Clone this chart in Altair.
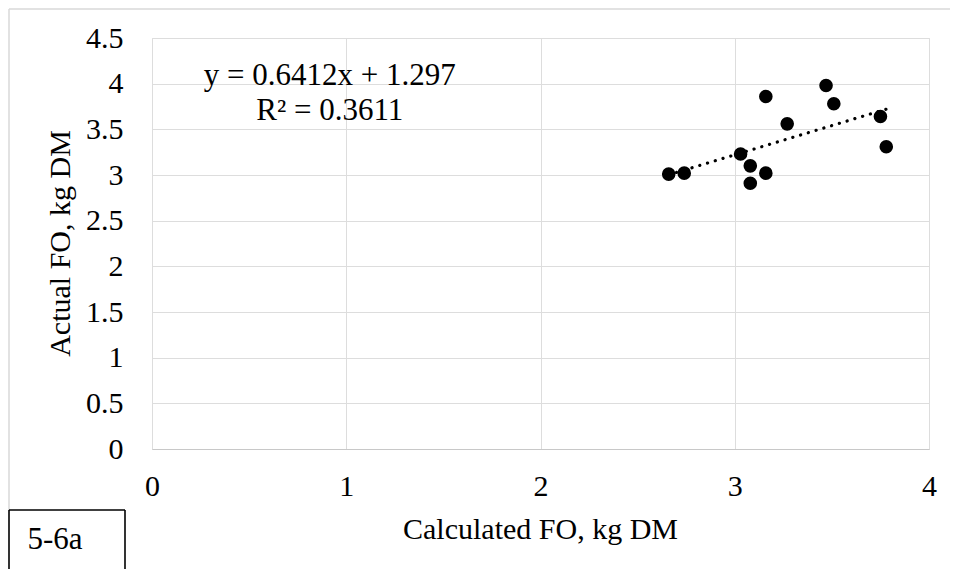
import altair as alt
import pandas as pd

# Data
calc_fo = [2.66, 2.74, 3.03, 3.08, 3.08, 3.16, 3.27, 3.16, 3.51, 3.47, 3.75, 3.78]
actual_fo = [3.01, 3.02, 3.23, 3.10, 2.91, 3.02, 3.56, 3.86, 3.78, 3.98, 3.64, 3.31]

slope = 0.6412
intercept = 1.297
eq_lines = ["y = 0.6412x + 1.297", "R² = 0.3611"]
eq_x = [0.915, 0.915]
eq_y = [3.98, 3.60]

x_ticks = [0, 1, 2, 3, 4]
y_ticks = [0, 0.5, 1, 1.5, 2, 2.5, 3, 3.5, 4, 4.5]

FONT = "Liberation Serif"
W, H = 777, 411

pts = pd.DataFrame({"calc": calc_fo, "actual": actual_fo})
xmin, xmax = min(calc_fo), max(calc_fo)
trend = pd.DataFrame({"calc": [xmin, xmax],
                      "actual": [slope * xmin + intercept, slope * xmax + intercept]})
eq = pd.DataFrame({"txt": eq_lines, "x": eq_x, "y": eq_y})
one = pd.DataFrame({"a": [0]})

xscale = alt.Scale(domain=[0, 4], nice=False, zero=True)
yscale = alt.Scale(domain=[0, 4.5], nice=False, zero=True)

xaxis = alt.Axis(values=x_ticks, format="~g", title="Calculated FO, kg DM", grid=True,
                 ticks=False, domain=True, domainColor="#c8c8c8", labelPadding=22,
                 labelFont=FONT, titleFont=FONT, labelColor="black", titleColor="black",
                 labelFontSize=30, titleFontSize=30, titleFontWeight="normal",
                 titleX=388, titleY=89, titleBaseline="alphabetic", labelFlush=False)
yaxis = alt.Axis(values=y_ticks, format="~g", title="Actual FO, kg DM", grid=True,
                 ticks=False, domain=False, labelPadding=29,
                 labelFont=FONT, titleFont=FONT, labelColor="black", titleColor="black",
                 labelFontSize=30, titleFontSize=30, titleFontWeight="normal",
                 titleX=-83, titleY=205, titleAngle=-90, titleAlign="center",
                 titleBaseline="alphabetic", labelFlush=False)

points = alt.Chart(pts).mark_circle(size=185, color="black", opacity=1).encode(
    x=alt.X("calc:Q", scale=xscale, axis=xaxis),
    y=alt.Y("actual:Q", scale=yscale, axis=yaxis),
)

trendline = alt.Chart(trend).mark_line(color="black", strokeWidth=3.2,
                                       strokeDash=[0.1, 8], strokeCap="round").encode(
    x=alt.X("calc:Q", scale=xscale),
    y=alt.Y("actual:Q", scale=yscale),
)

eqtext = alt.Chart(eq).mark_text(font=FONT, fontSize=31, color="black",
                                 align="center", baseline="alphabetic").encode(
    x=alt.X("x:Q", scale=xscale),
    y=alt.Y("y:Q", scale=yscale),
    text="txt:N",
)

# decorations: outer chart border (cropped) and the figure label box
border_top = alt.Chart(one).mark_rule(color="#d9d9d9", strokeWidth=1.5).encode(
    x=alt.value(-143), x2=alt.value(W + 30), y=alt.value(-29))
border_left = alt.Chart(one).mark_rule(color="#d9d9d9", strokeWidth=1.5).encode(
    x=alt.value(-143), y=alt.value(-29), y2=alt.value(472))
box_top = alt.Chart(one).mark_rule(color="black", strokeWidth=1.6).encode(
    x=alt.value(-143), x2=alt.value(-27), y=alt.value(472))
box_left = alt.Chart(one).mark_rule(color="black", strokeWidth=1.6).encode(
    x=alt.value(-143), y=alt.value(472), y2=alt.value(540))
box_right = alt.Chart(one).mark_rule(color="black", strokeWidth=1.6).encode(
    x=alt.value(-27), y=alt.value(472), y2=alt.value(540))
box_label = alt.Chart(one).mark_text(text="5-6a", font=FONT, fontSize=31, color="black",
                                     align="center", baseline="alphabetic").encode(
    x=alt.value(-97), y=alt.value(511))

chart = alt.layer(
    border_top, border_left, trendline, points, eqtext,
    box_top, box_left, box_right, box_label,
).properties(
    width=W, height=H,
    autosize=alt.AutoSizeParams(type="none"),
    padding={"left": 144, "top": 30, "right": 21, "bottom": 120},
).configure_view(
    stroke=None
).configure_axis(
    gridColor="#d9d9d9", gridWidth=1.3,
).configure(background="white")

chart.save("out.html", embed_options={"renderer": "svg", "actions": False})
